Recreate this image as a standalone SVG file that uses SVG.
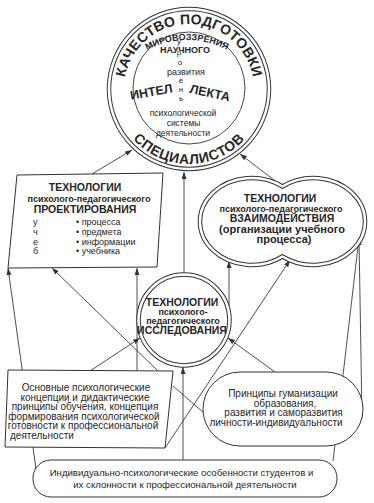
<svg xmlns="http://www.w3.org/2000/svg" width="374" height="503" viewBox="0 0 374 503">
<defs>
<style>
.t{font-family:"Liberation Sans",Arial,sans-serif;fill:#262626}
.b{font-weight:bold}
.m{text-anchor:middle}
.ln{stroke:#3a3a3a;stroke-width:0.9;fill:none}
.dbl{fill:#fff;stroke:#333;stroke-width:4.5}
.dblw{fill:none;stroke:#fff;stroke-width:2.5}
.box{fill:#fff;stroke:#333;stroke-width:1}
</style>
<marker id="ah" markerUnits="userSpaceOnUse" markerWidth="8" markerHeight="6" refX="7" refY="2.5" orient="auto">
<path d="M0,0 L7,2.5 L0,5 Z" fill="#333"/>
</marker>
<path id="arcTop" d="M127.9,111.2 A65,65 0 1 1 250.1,111.2"/>
<path id="arcBot" d="M114,89 A75,75 0 0 0 264,89"/>
<path id="arcMir" d="M137,56.3 A85,85 0 0 1 237,56.3"/>
</defs>
<rect width="374" height="503" fill="#fff"/>

<g id="connectors">
<line class="ln" x1="92" y1="174" x2="132" y2="150" marker-end="url(#ah)"/>
<line class="ln" x1="282.5" y1="186.5" x2="240" y2="154" marker-end="url(#ah)"/>
<line class="ln" x1="184" y1="273" x2="184" y2="172" marker-end="url(#ah)"/>
<line class="ln" x1="36" y1="469" x2="8" y2="268" marker-end="url(#ah)"/>
<line class="ln" x1="158" y1="371" x2="52" y2="268" marker-end="url(#ah)"/>
<line class="ln" x1="137" y1="371" x2="137" y2="268" marker-end="url(#ah)"/>
<line class="ln" x1="90" y1="371" x2="140" y2="338" marker-end="url(#ah)"/>
<line class="ln" x1="275" y1="372" x2="228" y2="338" marker-end="url(#ah)"/>
<line class="ln" x1="183" y1="460" x2="183" y2="367" marker-end="url(#ah)"/>
<line class="ln" x1="165" y1="448" x2="290" y2="260" marker-end="url(#ah)"/>
<line class="ln" x1="173" y1="386" x2="204" y2="413"/>
<line class="ln" x1="229" y1="306" x2="229" y2="261" marker-end="url(#ah)"/>
<line class="ln" x1="362" y1="418" x2="359" y2="238" marker-end="url(#ah)"/>
<line class="ln" x1="333" y1="461" x2="359" y2="238" marker-end="url(#ah)"/>
</g>

<g id="node-quality">
<circle class="dbl" cx="189" cy="89" r="80"/>
<circle class="dblw" cx="189" cy="89" r="80"/>
<circle cx="189" cy="88" r="56" fill="#fff" stroke="#333" stroke-width="0.9"/>
<text class="t b" font-size="14" letter-spacing="0.2"><textPath href="#arcTop" startOffset="50%" text-anchor="middle">КАЧЕСТВО ПОДГОТОВКИ</textPath></text>
<text class="t b" font-size="14" letter-spacing="0.6"><textPath href="#arcBot" startOffset="50%" text-anchor="middle">СПЕЦИАЛИСТОВ</textPath></text>
<text class="t b" font-size="9"><textPath href="#arcMir" startOffset="50%" text-anchor="middle">МИРОВОЗЗРЕНИЯ</textPath></text>
<text class="t b m" x="185" y="53" font-size="9">НАУЧНОГО</text>
<text class="t m" font-size="8"><tspan x="179" y="44">у</tspan><tspan x="179" y="55">р</tspan><tspan x="180" y="65">о</tspan><tspan x="181" y="83">е</tspan><tspan x="181" y="92">н</tspan><tspan x="181" y="101">ь</tspan></text>
<text class="t m" x="186" y="75" font-size="9">развития</text>
<text class="t b m" x="152" y="96" font-size="12.5" transform="rotate(-10 152 96)">ИНТЕЛ</text>
<text class="t b m" x="209" y="97" font-size="12.5" transform="rotate(12 209 97)">ЛЕКТА</text>
<text class="t m" x="183" y="116" font-size="8.5">психологической</text>
<text class="t m" x="183.5" y="126" font-size="8.5">системы</text>
<text class="t m" x="183" y="136" font-size="8.5">деятельности</text>
</g>

<g id="node-design">
<polygon class="box" points="17,175 163,173 157,267 8,268"/>
<text class="t b m" x="85" y="191" font-size="10.5">ТЕХНОЛОГИИ</text>
<text class="t b m" x="89" y="202" font-size="9">психолого-педагогического</text>
<text class="t b m" x="85" y="213" font-size="10.5">ПРОЕКТИРОВАНИЯ</text>
<text class="t" font-size="9"><tspan x="33" y="225">у</tspan><tspan x="33" y="235">ч</tspan><tspan x="33" y="244.5">е</tspan><tspan x="33" y="254">б</tspan></text>
<text class="t" font-size="9"><tspan x="76" y="225">• процесса</tspan><tspan x="76" y="235">• предмета</tspan><tspan x="76" y="244.5">• информации</tspan><tspan x="76" y="254">• учебника</tspan></text>
</g>

<g id="node-interaction">
<path class="dbl" d="M282.5,186.5 A51.8,43.5 0 1 0 282.5,256.5 A51.8,43.5 0 1 0 282.5,186.5 Z" stroke-width="4"/>
<path class="dblw" d="M282.5,186.5 A51.8,43.5 0 1 0 282.5,256.5 A51.8,43.5 0 1 0 282.5,186.5 Z" stroke-width="2"/>
<text class="t b m" x="280" y="202" font-size="10.5">ТЕХНОЛОГИИ</text>
<text class="t b m" x="281" y="212" font-size="9">психолого-педагогического</text>
<text class="t b m" x="282" y="222" font-size="10.5">ВЗАИМОДЕЙСТВИЯ</text>
<text class="t b m" x="282" y="232.5" font-size="11">(организации учебного</text>
<text class="t b m" x="284" y="243" font-size="11">процесса)</text>
</g>

<g id="node-research">
<circle class="dbl" cx="184" cy="320" r="45.5" stroke-width="4"/>
<circle class="dblw" cx="184" cy="320" r="45.5" stroke-width="2"/>
<text class="t b m" x="182" y="306" font-size="10.5">ТЕХНОЛОГИИ</text>
<text class="t b m" x="183" y="315" font-size="9">психолого-</text>
<text class="t b m" x="183" y="324" font-size="9">педагогического</text>
<text class="t b m" x="182" y="334" font-size="10.5">ИССЛЕДОВАНИЯ</text>
</g>

<g id="node-concepts">
<polygon class="box" points="8,370 173,371 165,448 5,447"/>
<text class="t m" font-size="10"><tspan x="86" y="391">Основные психологические</tspan><tspan x="85" y="400.5">концепции и дидактические</tspan><tspan x="85" y="410">принципы обучения, концепция</tspan><tspan x="84" y="419.5">формирования психологической</tspan><tspan x="83" y="429">готовности к профессиональной</tspan></text>
<text class="t" x="10" y="439" font-size="10">деятельности</text>
</g>

<g id="node-principles">
<rect class="box" x="203" y="372" width="160" height="74" rx="37" ry="37"/>
<text class="t m" font-size="10"><tspan x="283" y="397">Принципы гуманизации</tspan><tspan x="285" y="406.5">образования,</tspan><tspan x="283.5" y="416">развития и  саморазвития</tspan><tspan x="276" y="426">личности-индивидуальности</tspan></text>
</g>

<g id="node-individual">
<rect class="box" x="33" y="460" width="304" height="37" rx="18" ry="18"/>
<text class="t m" font-size="9.6"><tspan x="181.5" y="476">Индивидуально-психологические особенности студентов и</tspan><tspan x="185" y="487.5">их склонности к профессиональной деятельности</tspan></text>
</g>
</svg>
